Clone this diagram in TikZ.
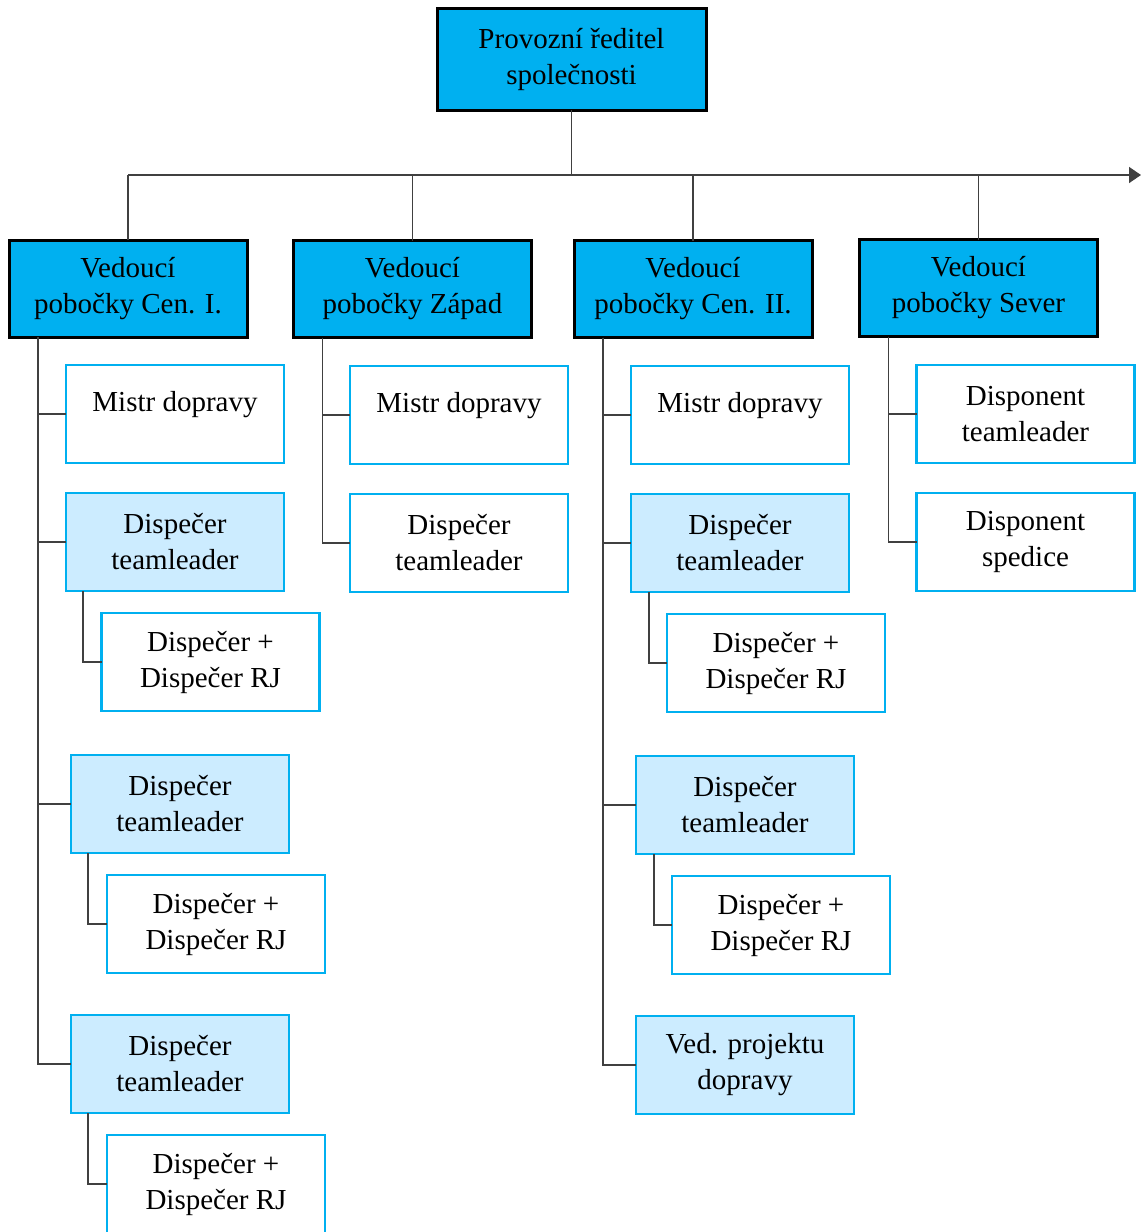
\documentclass[tikz,border=0pt]{standalone}
\usepackage{fontspec}
\setmainfont{Liberation Serif}
\usetikzlibrary{arrows.meta,calc}
\definecolor{dblue}{RGB}{0,176,240}
\definecolor{lblue}{RGB}{204,236,255}
\definecolor{conncol}{RGB}{64,64,64}
\begin{document}
\begin{tikzpicture}[x=1pt,y=-1pt,
  base/.style={rectangle, inner sep=0pt, outer sep=0pt, align=center,
    font=\fontsize{29}{36}\selectfont},
  topbox/.style={base, draw=black, line width=3pt, fill=dblue},
  headbox/.style={topbox, minimum width=238pt, minimum height=97pt},
  subbox/.style={base, draw=dblue, line width=2.5pt, fill=white, minimum width=218pt, minimum height=98pt},
  subfill/.style={subbox, fill=lblue},
  oneline/.style={text depth=26pt},
  conn/.style={draw=conncol, line width=1.5pt},
]
\useasboundingbox (0,0) rectangle (1141,1232);
\fill[white] (0,0) rectangle (1141,1232);

% top
\node[topbox, minimum width=269pt, minimum height=102pt] (top) at (571.5,59) {Provozní ředitel\\společnosti};

% heads
\node[headbox] (b1) at (128,288.5) {Vedoucí\\pobočky Cen. I.};
\node[headbox] (b2) at (412.5,289) {Vedoucí\\pobočky Západ};
\node[headbox] (b3) at (693,289) {Vedoucí\\pobočky Cen. II.};
\node[headbox] (b4) at (978.5,288) {Vedoucí\\pobočky Sever};

% column 1
\node[subbox, oneline] (m1) at (175,414) {Mistr dopravy};
\node[subfill] (d1) at (175,542) {Dispečer\\teamleader};
\node[subbox] (s1) at (210.5,662) {Dispečer +\\Dispečer RJ};
\node[subfill] (d2) at (180,804) {Dispečer\\teamleader};
\node[subbox] (s2) at (216,924) {Dispečer +\\Dispečer RJ};
\node[subfill] (d3) at (180,1064) {Dispečer\\teamleader};
\node[subbox] (s3) at (216,1184) {Dispečer +\\Dispečer RJ};

% column 2
\node[subbox, oneline] (m2) at (459,415) {Mistr dopravy};
\node[subbox] (e2) at (459,543) {Dispečer\\teamleader};

% column 3
\node[subbox, oneline] (m3) at (740,415) {Mistr dopravy};
\node[subfill] (d4) at (740,543) {Dispečer\\teamleader};
\node[subbox] (s4) at (776,663) {Dispečer +\\Dispečer RJ};
\node[subfill] (d5) at (745,805) {Dispečer\\teamleader};
\node[subbox] (s5) at (781,925) {Dispečer +\\Dispečer RJ};
\node[subfill] (v3) at (745,1065) {Ved. projektu\\dopravy};

% column 4
\node[subbox] (p1) at (1025.5,414) {Disponent\\teamleader};
\node[subbox] (p2) at (1025.5,542) {Disponent\\spedice};

% connectors
\coordinate (hl) at (128,175);
\coordinate (ar) at (1141,175);
\draw[conn] (top.south) -- (top.south |- hl);
\draw[conn, -{Triangle[length=12pt,width=16pt]}] (hl) -- (ar);
\foreach \b in {b1,b2,b3,b4} {\draw[conn] (\b.north) -- (\b.north |- hl);}

\foreach \c in {m1,d1,d2,d3} {\draw[conn] ($(b1.south west)+(29,0)$) |- (\c.west);}
\foreach \c in {m2,e2} {\draw[conn] ($(b2.south west)+(29,0)$) |- (\c.west);}
\foreach \c in {m3,d4,d5,v3} {\draw[conn] ($(b3.south west)+(29,0)$) |- (\c.west);}
\foreach \c in {p1,p2} {\draw[conn] ($(b4.south west)+(29,0)$) |- (\c.west);}

\draw[conn] ($(d1.south west)+(17,0)$) |- (s1.west);
\draw[conn] ($(d2.south west)+(17,0)$) |- (s2.west);
\draw[conn] ($(d3.south west)+(17,0)$) |- (s3.west);
\draw[conn] ($(d4.south west)+(18,0)$) |- (s4.west);
\draw[conn] ($(d5.south west)+(18,0)$) |- (s5.west);
\end{tikzpicture}
\end{document}
